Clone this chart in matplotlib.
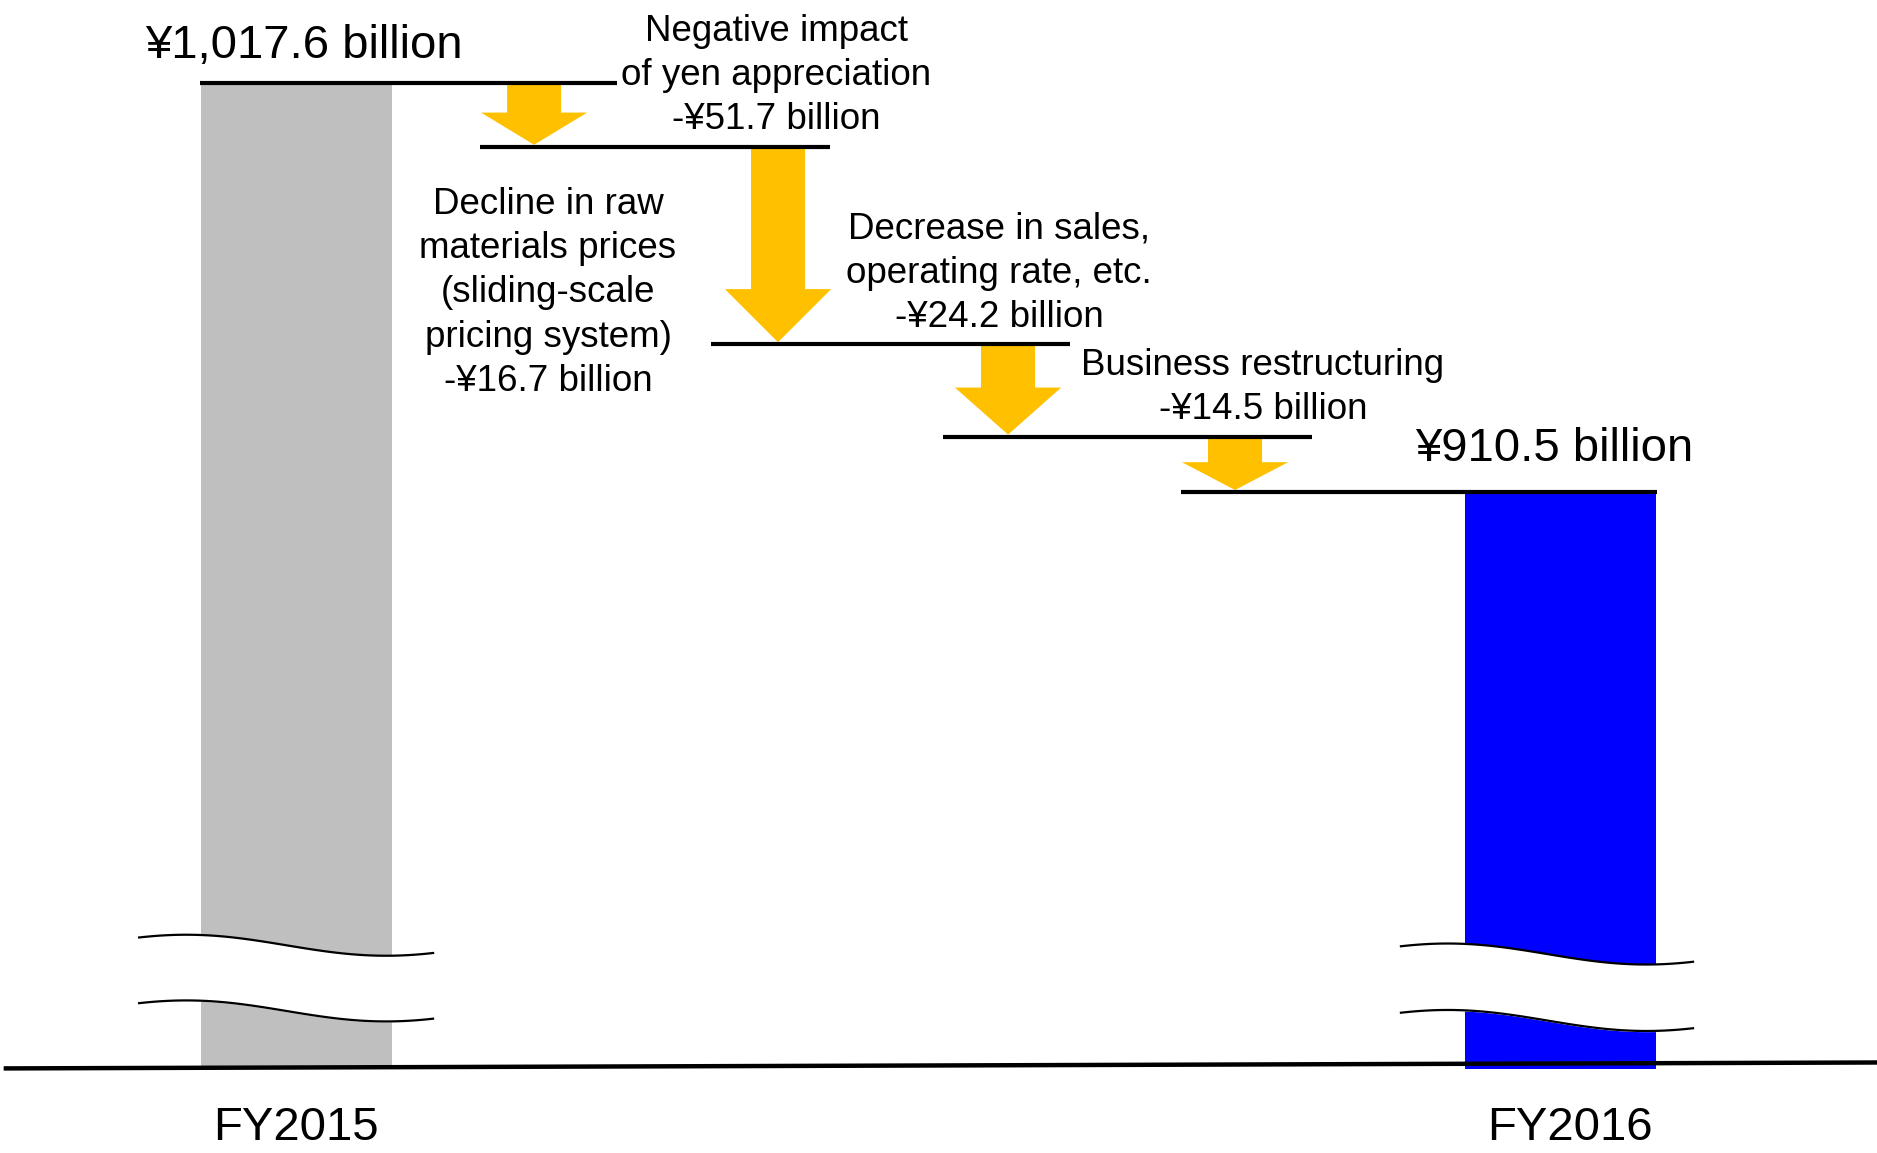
import numpy as np
import matplotlib.pyplot as plt
from matplotlib.patches import Polygon

plt.rcParams['font.family'] = ['Liberation Sans', 'DejaVu Sans']

# data (billion yen)
start_label = "FY2015"
end_label = "FY2016"
start_value = 1017.6
changes = [-16.7, -51.7, -24.2, -14.5]
change_labels = [
    "Decline in raw\nmaterials prices\n(sliding-scale\npricing system)\n-¥16.7 billion",
    "Negative impact\nof yen appreciation\n-¥51.7 billion",
    "Decrease in sales,\noperating rate, etc.\n-¥24.2 billion",
    "Business restructuring\n-¥14.5 billion",
]
end_value = 910.5

# layout (x in step units, y in data units)
xpos = [0.0, 1.013, 2.051, 3.030, 3.996, 5.383]
bar_w = 0.813
base_val = 759.4
line_left = [-0.407, 0.783, 1.766, 2.753, 3.766]
line_right = [1.366, 2.272, 3.294, 4.323, 5.790]
label_xy = [(1.072, 962.6), (2.043, 1019.5), (2.991, 967.8), (4.115, 937.9)]
dy = -0.94  # small downward nudge for centred text

GRAY = '#BFBFBF'
BLUE = '#0000FF'
YELLOW = '#FFC000'

fig = plt.figure(figsize=(18.77, 11.53), dpi=100)
ax = fig.add_axes([0, 0, 1, 1])
ax.set_xlim(-1.26, 6.728)
ax.set_ylim(737.4, 1039.3)
ax.axis('off')

# start / end bars
ax.bar([xpos[0], xpos[-1]], [start_value - base_val, end_value - base_val],
       bottom=base_val, width=bar_w, color=[GRAY, BLUE], zorder=1)

# running totals
levels = [start_value]
for c in changes:
    levels.append(round(levels[-1] + c, 1))

# connector lines
for i, lv in enumerate(levels):
    ax.plot([line_left[i], line_right[i]], [lv, lv], color='black', lw=3,
            solid_capstyle='butt', zorder=4)

# arrows
sw, hw = 0.115, 0.226
for i, c in enumerate(changes):
    x = xpos[i + 1]
    y0 = levels[i]
    y1 = levels[i + 1] + 0.5
    hl = min(0.52 * (y0 - y1), 13.9)
    pts = [(x - sw, y0), (x + sw, y0), (x + sw, y1 + hl), (x + hw, y1 + hl),
           (x, y1), (x - hw, y1 + hl), (x - sw, y1 + hl)]
    ax.add_patch(Polygon(pts, closed=True, facecolor=YELLOW, edgecolor='none', zorder=3))
    lx, ly = label_xy[i]
    ax.text(lx, ly, change_labels[i], ha='center', va='center', fontsize=26.5,
            linespacing=1.34, zorder=5)

# value labels
ax.text(0.034, start_value + 10.7 + dy, f"¥{start_value:,.1f} billion", ha='center',
        va='center', fontsize=34)
ax.text(5.353, end_value + 12.3 + dy, f"¥{end_value:,.1f} billion", ha='center',
        va='center', fontsize=34)

# category labels
ax.text(xpos[0], 744.8 + dy, start_label, ha='center', va='center', fontsize=34)
ax.text(5.42, 744.8 + dy, end_label, ha='center', va='center', fontsize=34)


# axis break marks
def wave(xc, left, right, yc, amp=2.75):
    u = np.linspace(0, 1, 100)
    xs = xc - left + u * (left + right)
    ys = yc - amp * np.sin((u - 0.5) * 4.62)
    return xs, ys


for xc, left, right, y_top, y_bot in [(xpos[0], 0.668, 0.583, 791.8, 774.6),
                                      (xpos[-1], 0.681, 0.562, 789.5, 772.1)]:
    xs, ya = wave(xc, left, right, y_top)
    _, yb = wave(xc, left, right, y_bot)
    ax.fill_between(xs, yb, ya, color='white', zorder=2)
    ax.plot(xs, ya, color='black', lw=1.6, zorder=2.5)
    ax.plot(xs, yb, color='black', lw=1.6, zorder=2.5)

# baseline (slightly tilted as in the source slide)
ax.plot([-1.235, 6.728], [759.55, 761.1], color='black', lw=3.2, zorder=4)

fig.savefig('out.png', dpi=100)
